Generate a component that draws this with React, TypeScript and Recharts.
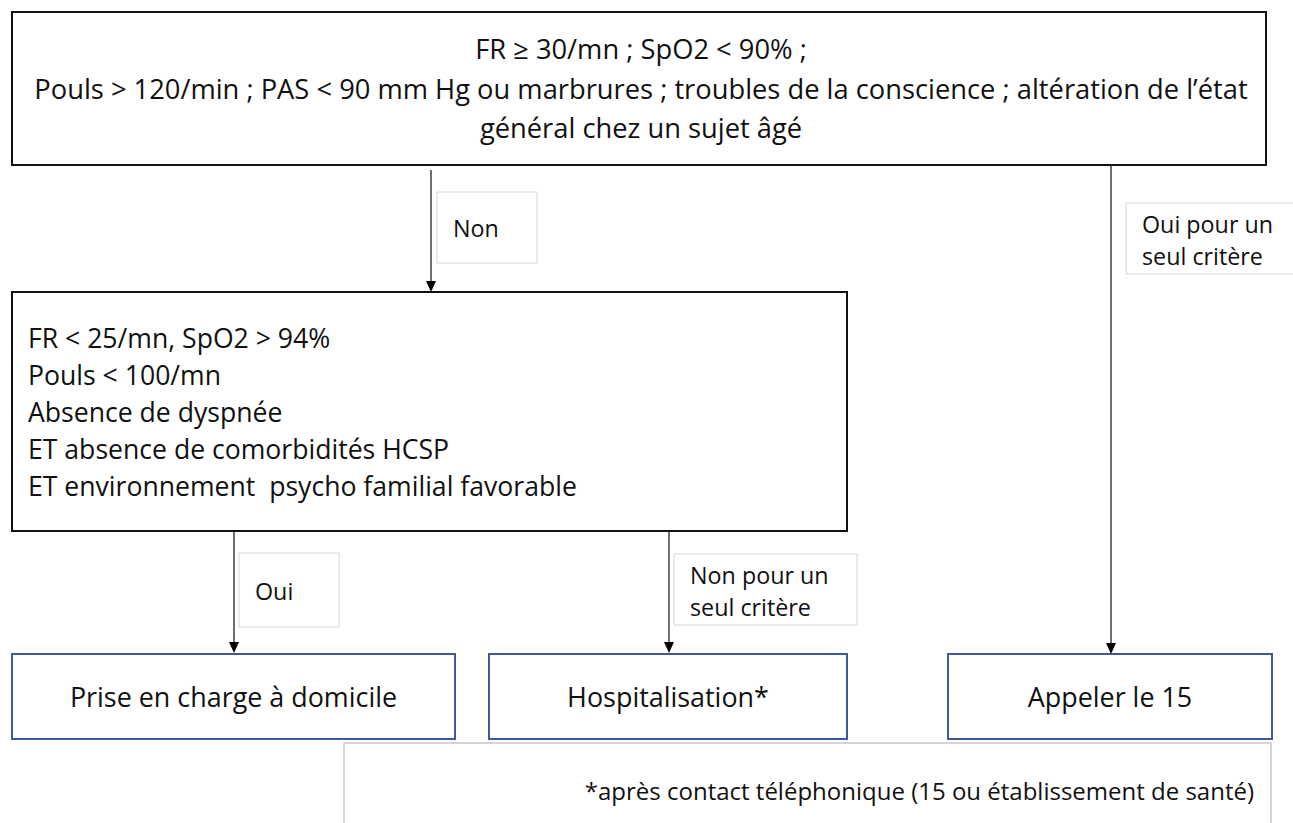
import React from 'react';
import { ScatterChart, XAxis, YAxis, Scatter, ReferenceArea, ReferenceLine, ReferenceDot } from 'recharts';

const W = 1293;
const H = 823;
const FONT = '"Open Sans", "Noto Sans", sans-serif';

// ---- text content ----
const topCriteria = [
  'FR ≥ 30/mn ; SpO2 < 90% ;',
  'Pouls > 120/min ; PAS < 90 mm Hg ou marbrures ; troubles de la conscience ; altération de l’état',
  'général chez un sujet âgé',
];
const reassuranceCriteria = [
  'FR < 25/mn, SpO2 > 94%',
  'Pouls < 100/mn',
  'Absence de dyspnée',
  'ET absence de comorbidités HCSP',
  'ET environnement  psycho familial favorable',
];
const outcomes = ['Prise en charge à domicile', 'Hospitalisation*', 'Appeler le 15'];
const branchLabels = [['Non'], ['Oui pour un', 'seul critère'], ['Oui'], ['Non pour un', 'seul critère']];
const footnote = '*après contact téléphonique (15 ou établissement de santé)';

// ---- layout (diagram units) ----
const criteriaBoxes = [
  { x1: 12, x2: 1266, y1: 12, y2: 165 },
  { x1: 12, x2: 847, y1: 292, y2: 531 },
];
const topLineY = [48, 88, 127];
const midLineY = [338, 375, 412, 449, 486];
const outcomeBoxes = [
  { x1: 12, x2: 455 },
  { x1: 489, x2: 847 },
  { x1: 948, x2: 1272 },
];
const outcomeY = { y1: 654, y2: 739 };
const labelBoxes = [
  { x1: 437, x2: 537, y1: 192, y2: 263, tx: 453, ty: [228] },
  { x1: 1126, x2: 1310, y1: 203, y2: 274, tx: 1142, ty: [224, 256] },
  { x1: 239, x2: 339, y1: 553, y2: 627, tx: 255, ty: [591] },
  { x1: 674, x2: 857, y1: 554, y2: 625, tx: 690, ty: [575, 607] },
];
const arrows = [
  { x: 431, from: 170, to: 292 },
  { x: 1111, from: 165, to: 654 },
  { x: 234, from: 531, to: 653 },
  { x: 669, from: 531, to: 653 },
];
const footBox = { x1: 344, x2: 1271, y1: 743, y2: 860, tx: 1254, ty: 790 };

type TP = { x: number; y: number; text: string; anchor: string; size: number };
const textPoints: TP[] = [];
topCriteria.forEach((t, i) =>
  textPoints.push({ x: (criteriaBoxes[0].x1 + criteriaBoxes[0].x2) / 2 + 2, y: topLineY[i], text: t, anchor: 'middle', size: 27.3 })
);
reassuranceCriteria.forEach((t, i) => textPoints.push({ x: 28, y: midLineY[i], text: t, anchor: 'start', size: 26.6 }));
outcomes.forEach((t, i) =>
  textPoints.push({
    x: (outcomeBoxes[i].x1 + outcomeBoxes[i].x2) / 2,
    y: (outcomeY.y1 + outcomeY.y2) / 2,
    text: t,
    anchor: 'middle',
    size: 26.9,
  })
);
branchLabels.forEach((lines, i) =>
  lines.forEach((t, j) =>
    textPoints.push({ x: labelBoxes[i].tx, y: labelBoxes[i].ty[j], text: t, anchor: 'start', size: 23.3 })
  )
);
textPoints.push({ x: footBox.tx, y: footBox.ty, text: footnote, anchor: 'end', size: 24 });

const renderText = (props: any) => {
  const { cx, cy, payload } = props;
  return (
    <text
      x={cx}
      y={cy}
      textAnchor={payload.anchor}
      dominantBaseline="central"
      fontFamily={FONT}
      fontSize={payload.size}
      fill="#111"
      style={{ whiteSpace: 'pre' }}
    >
      {payload.text}
    </text>
  );
};

const arrowHead = (props: any) => {
  const { cx, cy } = props;
  return <polygon points={`${cx - 5},${cy - 11} ${cx + 5},${cy - 11} ${cx},${cy}`} fill="#000" />;
};

export default function App() {
  return (
    <div style={{ position: 'absolute', left: 0, top: 0, background: '#fff' }}>
      <ScatterChart width={W} height={H} margin={{ top: 0, right: 0, bottom: 0, left: 0 }}>
        <XAxis type="number" dataKey="x" domain={[0, W]} hide allowDataOverflow />
        <YAxis type="number" dataKey="y" domain={[0, H]} reversed hide allowDataOverflow />
        {criteriaBoxes.map((b, i) => (
          <ReferenceArea key={'c' + i} x1={b.x1} x2={b.x2} y1={b.y1} y2={b.y2} fill="#fff" fillOpacity={1} stroke="#111" strokeWidth={2} ifOverflow="visible" />
        ))}
        {outcomeBoxes.map((b, i) => (
          <ReferenceArea key={'o' + i} x1={b.x1} x2={b.x2} y1={outcomeY.y1} y2={outcomeY.y2} fill="#fff" fillOpacity={1} stroke="#3A5A98" strokeWidth={2} ifOverflow="visible" />
        ))}
        {labelBoxes.map((b, i) => (
          <ReferenceArea key={'l' + i} x1={b.x1} x2={b.x2} y1={b.y1} y2={b.y2} fill="#fff" fillOpacity={1} stroke="#D6D6D6" strokeWidth={1} ifOverflow="visible" />
        ))}
        <ReferenceArea x1={footBox.x1} x2={footBox.x2} y1={footBox.y1} y2={footBox.y2} fill="#fff" fillOpacity={1} stroke="#C8C8C8" strokeWidth={1.5} ifOverflow="visible" />
        {arrows.map((a, i) => (
          <ReferenceLine key={'a' + i} segment={[{ x: a.x, y: a.from }, { x: a.x, y: a.to - 10 }]} stroke="#222" strokeWidth={1.3} ifOverflow="visible" />
        ))}
        {arrows.map((a, i) => (
          <ReferenceDot key={'h' + i} x={a.x} y={a.to} r={0} shape={arrowHead} ifOverflow="visible" />
        ))}
        <Scatter data={textPoints} shape={renderText} isAnimationActive={false} />
      </ScatterChart>
    </div>
  );
}
